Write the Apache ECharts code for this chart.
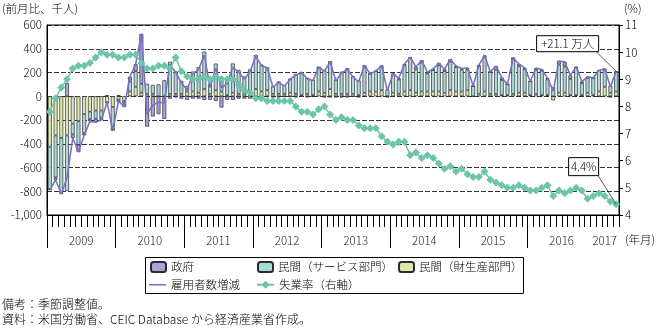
<!DOCTYPE html>
<html><head><meta charset="utf-8">
<script src="https://cdn.jsdelivr.net/npm/echarts@6/dist/echarts.min.js"></script>
<style>html,body{margin:0;padding:0;background:#fff}#c{width:663px;height:329px}</style>
</head><body><div id="c"></div>
<script>
// ---- data (thousands, month-on-month; unemployment %) Jan 2009 - Apr 2017 ----
const years = ['2009','2010','2011','2012','2013','2014','2015','2016','2017'];
const total = [
 -791,-703,-823,-686,-351,-470,-329,-212,-219,-200,-50,-290,
 -40,-90,163,270,525,-150,-75,-50,-55,270,200,110,
 55,188,225,346,73,235,70,107,246,202,146,207,
 338,257,239,75,115,87,143,177,203,146,132,244,
 211,286,130,197,226,162,122,261,190,212,258,47,
 190,151,272,329,246,304,202,230,280,227,312,255,
 234,238,86,262,344,206,254,157,100,321,272,239,
 126,237,225,153,43,297,291,176,249,124,164,155,
 216,232,79,211];
const gov = [
 -10,-20,-10,110,-30,-60,-20,-20,-30,-20,-10,-30,
 10,-30,40,60,420,-255,-170,-150,-180,-20,-10,-20,
 -30,-20,-20,-30,-30,-40,-95,-30,-30,-20,-20,-20,
 -10,-10,-5,-10,-10,-5,-5,-10,10,-10,-5,0,
 -10,-10,-10,-10,-10,-5,-10,20,0,0,5,-10,
 5,10,10,5,20,20,10,10,20,15,20,10,
 10,10,0,10,15,0,30,20,0,0,20,10,
 0,15,10,10,20,30,40,30,10,15,10,0,
 -5,10,-10,5];
const goods = [
 -425,-330,-350,-330,-230,-210,-150,-130,-120,-120,-50,-90,
 -30,-40,40,80,30,20,20,0,-10,20,20,20,
 40,40,30,60,20,50,40,10,30,20,20,40,
 60,40,50,20,20,20,30,20,10,20,10,40,
 30,60,20,20,20,20,10,30,40,40,50,0,
 30,20,40,50,30,40,40,40,40,30,50,40,
 40,50,0,20,40,20,20,10,10,20,30,30,
 10,20,10,10,-35,30,30,10,10,10,30,10,
 40,80,30,40];
const services = [
 -356,-353,-463,-466,-91,-200,-159,-62,-69,-60,10,-170,
 -20,-20,83,130,75,85,75,100,135,270,190,110,
 45,168,215,316,83,225,125,127,246,202,146,187,
 288,227,194,65,105,72,118,167,183,136,127,204,
 191,236,120,187,216,147,122,211,150,172,203,57,
 155,121,222,274,196,244,152,180,220,182,242,205,
 184,178,86,232,289,186,204,127,90,301,222,199,
 116,202,205,133,58,237,221,136,229,99,124,145,
 181,142,59,166];
const unemp = [
 7.8,8.3,8.7,9.0,9.4,9.5,9.5,9.6,9.8,10.0,9.9,9.9,
 9.8,9.8,9.9,9.9,9.6,9.4,9.4,9.5,9.5,9.4,9.8,9.3,
 9.1,9.0,9.0,9.1,9.0,9.1,9.0,9.0,9.0,8.8,8.6,8.5,
 8.3,8.3,8.2,8.2,8.2,8.2,8.2,8.0,7.8,7.8,7.7,7.9,
 8.0,7.7,7.5,7.6,7.5,7.5,7.3,7.2,7.2,7.2,6.9,6.7,
 6.6,6.7,6.7,6.2,6.3,6.1,6.2,6.1,5.9,5.7,5.8,5.6,
 5.7,5.5,5.4,5.4,5.6,5.3,5.2,5.1,5.0,5.0,5.1,5.0,
 4.9,4.9,5.0,5.1,4.7,4.9,4.8,4.9,5.0,4.9,4.6,4.7,
 4.8,4.7,4.5,4.4];
const leftTicks = {min:-1000, max:600, step:200};
const rightTicks = {min:4, max:11, step:1};
const names = ['政府','民間（サービス部門）','民間（財生産部門）','雇用者数増減','失業率（右軸）'];
const noteLines = ['備考：季節調整値。','資料：米国労働省、CEIC Database から経済産業省作成。'];

const months = [];
for (let i = 0; i < total.length; i++) {
  const y = 2009 + Math.floor(i/12), m = i%12+1;
  months.push(y + '/' + m);
}
const nM = months.length;
const sepVals = [];
for (let k = 0; k < years.length-1; k++) sepVals.push(k*12);
const lastYearStart = (years.length-1)*12;
const lastLabelIdx = Math.floor((lastYearStart + nM - 1)/2); // centre of partial final year

const FONT = '"Noto Sans CJK JP","Noto Sans",sans-serif';
const chart = echarts.init(document.getElementById('c'), null, {renderer:'canvas'});
const barBorder = {borderColor:'#2a2a3a', borderWidth:0.7};
const legendBase = {orient:'horizontal', itemWidth:15, itemHeight:10, itemGap:0,
  textStyle:{fontFamily:FONT, fontSize:11.5, fontWeight:300, color:'#000'}, padding:0, selectedMode:false};
const TF = '300 11.5px '+FONT;
const baseGraphic = [
  {id:'g1', type:'text', left:2, top:3, style:{text:'(前月比、千人)', font:TF, fill:'#000'}},
  {id:'g2', type:'text', left:624, top:3, style:{text:'(%)', font:TF, fill:'#000'}},
  {id:'g3', type:'text', left:625, top:234, style:{text:'(年月)', font:TF, fill:'#000'}},
  {id:'g4', type:'rect', shape:{x:145.5, y:257.5, width:378, height:36}, style:{fill:'none', stroke:'#000', lineWidth:1}},
  {id:'g5', type:'text', left:2, top:298, style:{text:noteLines[0], font:'300 12px '+FONT, fill:'#000'}},
  {id:'g6', type:'text', left:2, top:313, style:{text:noteLines[1], font:'300 12px '+FONT, fill:'#000'}}
];
const option = {
  animation:false,
  textStyle:{fontFamily:FONT},
  grid:{left:47, right:44, top:25, bottom:114, show:true, borderColor:'#000', borderWidth:1, backgroundColor:'transparent'},
  xAxis:[{
    type:'category', data:months, boundaryGap:true, position:'bottom',
    axisLine:{show:true, onZero:false, lineStyle:{color:'#000', width:1}},
    axisTick:{show:true, interval:0, length:12, lineStyle:{color:'#000', width:1}},
    axisLabel:{show:true, margin:20, fontSize:11.5, fontWeight:300, color:'#222', fontFamily:FONT,
      interval:(i) => (i < lastYearStart && i%12 === 6) || i === lastLabelIdx,
      formatter:(v, i) => i === lastLabelIdx ? years[years.length-1] : '{a|' + years[Math.floor(i/12)] + '}',
      rich:{a:{padding:[0,6,0,0], fontSize:11.5, fontWeight:300, color:'#222', fontFamily:FONT}}},
    splitLine:{show:false}
  },{
    type:'value', min:0, max:nM, position:'bottom',
    axisLine:{show:false, onZero:false},
    axisTick:{show:true, customValues:sepVals, length:33, lineStyle:{color:'#000', width:1}},
    axisLabel:{show:false},
    splitLine:{show:false}
  }],
  yAxis:[{
    type:'value', min:leftTicks.min, max:leftTicks.max, interval:leftTicks.step,
    axisLine:{show:true, lineStyle:{color:'#000'}}, axisTick:{show:false},
    axisLabel:{fontSize:11.5, fontWeight:300, color:'#000', margin:5, fontFamily:FONT,
      formatter:v => v.toLocaleString('en-US')},
    splitLine:{show:true, lineStyle:{color:'#000', type:[5,2], width:0.8}}
  },{
    type:'value', min:rightTicks.min, max:rightTicks.max, interval:rightTicks.step, position:'right',
    axisLine:{show:true, lineStyle:{color:'#000'}},
    axisTick:{show:true, inside:false, length:4, lineStyle:{color:'#000'}},
    axisLabel:{fontSize:11.5, fontWeight:300, color:'#000', margin:6, fontFamily:FONT},
    splitLine:{show:false}
  }],
  legend:[
    Object.assign({}, legendBase, {left:150, top:261, data:[names[0]]}),
    Object.assign({}, legendBase, {left:257, top:261, data:[names[1]]}),
    Object.assign({}, legendBase, {left:398, top:261, data:[names[2]]}),
    Object.assign({}, legendBase, {left:149, top:279, itemWidth:17, itemHeight:1.5, data:[{name:names[3], icon:'rect'}]}),
    Object.assign({}, legendBase, {left:256, top:279, itemWidth:17, data:[names[4]]})
  ],
  series:[
    {name:names[2], type:'bar', stack:'emp', data:goods, barWidth:'68%',
     itemStyle:Object.assign({color:'#dbe9a2'}, barBorder)},
    {name:names[1], type:'bar', stack:'emp', data:services, barWidth:'68%',
     itemStyle:Object.assign({color:'#a9dbd2'}, barBorder)},
    {name:names[0], type:'bar', stack:'emp', data:gov, barWidth:'68%',
     itemStyle:Object.assign({color:'#aba3d6'}, barBorder)},
    {name:names[3], type:'line', data:total, symbol:'none', z:5,
     lineStyle:{color:'#7b70c2', width:1.6}, itemStyle:{color:'#7b70c2'}},
    {name:names[4], type:'line', yAxisIndex:1, data:unemp, symbol:'diamond', symbolSize:8, z:6,
     showSymbol:true, showAllSymbol:true,
     lineStyle:{color:'#6cc5aa', width:1.5}, itemStyle:{color:'#6cc5aa'}}
  ],
  graphic:baseGraphic
};
chart.setOption(option);

// annotations attached to the last data points
const last = nM-1;
const pT = chart.convertToPixel({xAxisIndex:0, yAxisIndex:0}, [last, total[last]]);
const pU = chart.convertToPixel({xAxisIndex:0, yAxisIndex:1}, [last, unemp[last]]);
const tLab = '+' + (total[last]/10).toFixed(1) + ' 万人';
const uLab = unemp[last].toFixed(1) + '%';
chart.setOption({graphic:baseGraphic.concat([
  {id:'a1', type:'rect', shape:{x:pT[0]-79.5, y:pT[1]-35.5, width:62, height:16}, style:{fill:'#fff', stroke:'#000', lineWidth:1}, z:10},
  {id:'a2', type:'text', x:pT[0]-48.5, y:pT[1]-27.5, style:{text:tLab, font:TF, fill:'#000', align:'center', verticalAlign:'middle'}, z:11},
  {id:'a3', type:'line', shape:{x1:pT[0]-20, y1:pT[1]-19.5, x2:pT[0], y2:pT[1]}, style:{stroke:'#333', lineWidth:0.8}, z:10},
  {id:'a4', type:'rect', shape:{x:pU[0]-47.5, y:pU[1]-46.5, width:30, height:18}, style:{fill:'#fff', stroke:'#000', lineWidth:1}, z:10},
  {id:'a5', type:'text', x:pU[0]-32.5, y:pU[1]-37.5, style:{text:uLab, font:TF, fill:'#000', align:'center', verticalAlign:'middle'}, z:11},
  {id:'a6', type:'line', shape:{x1:pU[0]-18, y1:pU[1]-28.5, x2:pU[0], y2:pU[1]}, style:{stroke:'#333', lineWidth:0.8}, z:10}
])});
</script></body></html>
